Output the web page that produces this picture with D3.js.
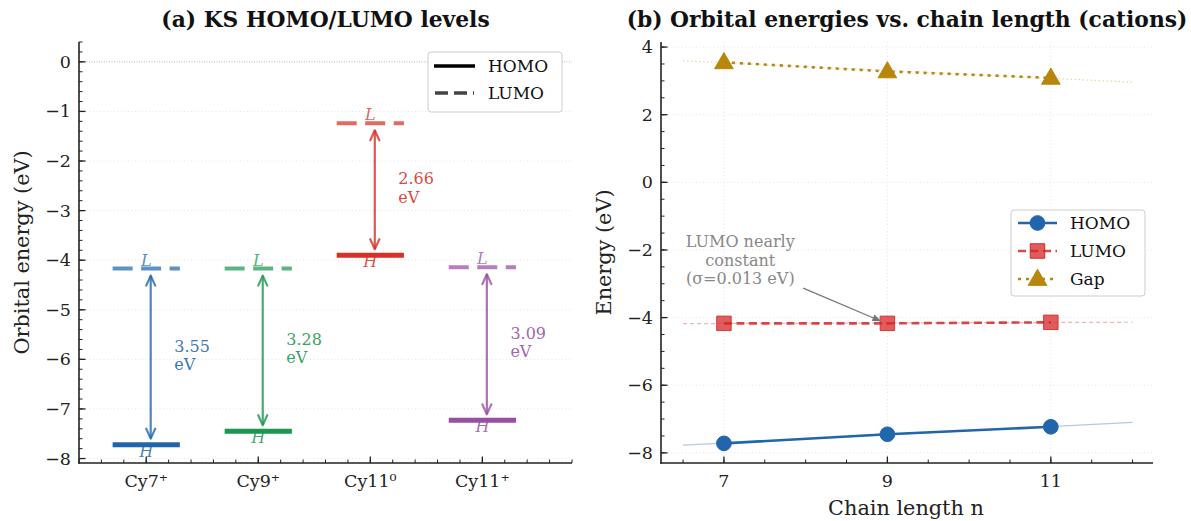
<!DOCTYPE html>
<html><head><meta charset="utf-8">
<script src="https://cdn.jsdelivr.net/npm/d3@7"></script>
<style>
html,body{margin:0;padding:0;background:#fff;}
svg text{font-family:"DejaVu Serif",serif;}
</style></head>
<body><svg id="c" width="1191" height="521"></svg>
<script>
// ---------- data ----------
const categories = ["Cy7⁺", "Cy9⁺", "Cy11⁰", "Cy11⁺"];
const homoLevels = [-7.72, -7.45, -3.90, -7.23];
const lumoLevels = [-4.17, -4.17, -1.24, -4.14];
const levelColors = ["#2166ac", "#1a9850", "#d73027", "#984ea3"];
const leftYTicks = [0, -1, -2, -3, -4, -5, -6, -7, -8];

const chainN = [7, 9, 11];
const cationHomo = [-7.72, -7.45, -7.23];
const cationLumo = [-4.17, -4.17, -4.14];
const cationGap = [3.55, 3.28, 3.09];
const rightYTicks = [4, 2, 0, -2, -4, -6, -8];
const rightXTicks = [7, 9, 11];

const svg = d3.select("#c");
const fmt = d3.format("d");
const TICK = 17.5, LAB = 20.8, TITLE = 21.8, LEG = 17, ANN = 16;

function axesFrame(g, x, y, xMinor, yMinor, xMajor, yMajor) {
  const [x0, x1] = x.range(), [y1, y0] = y.range();
  g.selectAll(".ymin").data(yMinor).join("line")
    .attr("x1", x0).attr("x2", x0 + 3.5).attr("y1", d => y(d)).attr("y2", d => y(d))
    .attr("stroke", "#222").attr("stroke-width", 1);
  g.selectAll(".ymaj").data(yMajor).join("line")
    .attr("x1", x0).attr("x2", x0 + 6.5).attr("y1", d => y(d)).attr("y2", d => y(d))
    .attr("stroke", "#222").attr("stroke-width", 1.3);
  g.selectAll(".xmin").data(xMinor).join("line")
    .attr("x1", d => x(d)).attr("x2", d => x(d)).attr("y1", y1).attr("y2", y1 - 3.5)
    .attr("stroke", "#222").attr("stroke-width", 1);
  g.selectAll(".xmaj").data(xMajor).join("line")
    .attr("x1", d => x(d)).attr("x2", d => x(d)).attr("y1", y1).attr("y2", y1 - 6.5)
    .attr("stroke", "#222").attr("stroke-width", 1.3);
  g.append("line").attr("x1", x0).attr("x2", x0).attr("y1", y0).attr("y2", y1 + 0.75)
    .attr("stroke", "#222").attr("stroke-width", 1.6);
  g.append("line").attr("x1", x0 - 0.75).attr("x2", x1).attr("y1", y1).attr("y2", y1)
    .attr("stroke", "#222").attr("stroke-width", 1.6);
}
function range(a, b, s) { const r = []; for (let v = a; v <= b + 1e-9; v += s) r.push(+v.toFixed(3)); return r; }

// ================= panel (a) =================
{
  const x = d3.scaleLinear().domain([-0.6, 3.8]).range([79, 572]);
  const y = d3.scaleLinear().domain([-8.09, 0.4]).range([463, 42]);
  const g = svg.append("g");
  g.selectAll(".grid").data(leftYTicks.filter(d => d !== 0)).join("line")
    .attr("x1", x(-0.6)).attr("x2", x(3.8)).attr("y1", d => y(d)).attr("y2", d => y(d))
    .attr("stroke", "#ddd").attr("stroke-width", 0.8).attr("stroke-dasharray", "1,2.5");
  g.append("line").attr("x1", x(-0.6)).attr("x2", x(3.8)).attr("y1", y(0)).attr("y2", y(0))
    .attr("stroke", "#aaa").attr("stroke-width", 0.8).attr("stroke-dasharray", "1,1.5");

  const idx = d3.range(categories.length);
  g.selectAll(".hl").data(idx).join("text")
    .attr("x", i => x(i)).attr("y", i => y(homoLevels[i]) + 12)
    .attr("text-anchor", "middle").attr("font-style", "italic").attr("font-size", 16)
    .attr("fill", i => levelColors[i]).attr("fill-opacity", 0.85).text("H");
  g.selectAll(".ll").data(idx).join("text")
    .attr("x", i => x(i)).attr("y", i => y(lumoLevels[i]) - 3)
    .attr("text-anchor", "middle").attr("font-style", "italic").attr("font-size", 16)
    .attr("fill", i => levelColors[i]).attr("fill-opacity", 0.75).text("L");
  g.selectAll(".hb").data(idx).join("line")
    .attr("x1", i => x(i - 0.3)).attr("x2", i => x(i + 0.3))
    .attr("y1", i => y(homoLevels[i])).attr("y2", i => y(homoLevels[i]))
    .attr("stroke", i => levelColors[i]).attr("stroke-width", 5);
  g.selectAll(".lb").data(idx).join("line")
    .attr("x1", i => x(i - 0.3)).attr("x2", i => x(i + 0.3))
    .attr("y1", i => y(lumoLevels[i])).attr("y2", i => y(lumoLevels[i]))
    .attr("stroke", i => levelColors[i]).attr("stroke-opacity", 0.72).attr("stroke-width", 4)
    .attr("stroke-dasharray", "20,8.5");
  idx.forEach(i => {
    const ax = x(i + 0.04), yt = y(lumoLevels[i]) + 7, yb = y(homoLevels[i]) - 6;
    const ag = g.append("g").attr("stroke", levelColors[i]).attr("stroke-opacity", 0.8)
      .attr("stroke-width", 2.2).attr("fill", "none").attr("stroke-linecap", "round").attr("stroke-linejoin", "round");
    ag.append("line").attr("x1", ax).attr("x2", ax).attr("y1", yt + 1).attr("y2", yb - 1);
    ag.append("path").attr("d", `M${ax - 4.5},${yt + 10}L${ax},${yt}L${ax + 4.5},${yt + 10}`);
    ag.append("path").attr("d", `M${ax - 4.5},${yb - 10}L${ax},${yb}L${ax + 4.5},${yb - 10}`);
    const mid = y((homoLevels[i] + lumoLevels[i]) / 2);
    const t = g.append("text").attr("x", x(i + 0.25)).attr("y", mid - 5)
      .attr("font-size", ANN).attr("fill", levelColors[i]).attr("fill-opacity", 0.9);
    t.append("tspan").attr("x", x(i + 0.25)).text((lumoLevels[i] - homoLevels[i]).toFixed(2));
    t.append("tspan").attr("x", x(i + 0.25)).attr("dy", 18.5).text("eV");
  });

  axesFrame(g, x, y, range(-0.6, 3.8, 0.2), range(-8, 0.4, 0.2), idx, leftYTicks);
  g.selectAll(".ytl").data(leftYTicks).join("text")
    .attr("x", 71).attr("y", d => y(d) + 6).attr("text-anchor", "end").attr("font-size", TICK)
    .attr("fill", "#222").text(d => fmt(d));
  g.selectAll(".xtl").data(idx).join("text")
    .attr("x", i => x(i)).attr("y", 487).attr("text-anchor", "middle").attr("font-size", TICK)
    .attr("fill", "#222").text(i => categories[i]);
  g.append("text").attr("transform", `translate(29,${(42 + 463) / 2}) rotate(-90)`)
    .attr("text-anchor", "middle").attr("font-size", LAB).attr("fill", "#222").text("Orbital energy (eV)");
  g.append("text").attr("x", (79 + 572) / 2).attr("y", 27).attr("text-anchor", "middle")
    .attr("font-size", TITLE).attr("font-weight", "bold").attr("fill", "#111").text("(a) KS HOMO/LUMO levels");

  const lg = g.append("g");
  lg.append("rect").attr("x", 428).attr("y", 52).attr("width", 134).attr("height", 60).attr("rx", 3)
    .attr("fill", "#fff").attr("fill-opacity", 0.9).attr("stroke", "#ccc").attr("stroke-width", 1);
  lg.append("line").attr("x1", 434).attr("x2", 475).attr("y1", 66).attr("y2", 66)
    .attr("stroke", "#000").attr("stroke-width", 3.5);
  lg.append("line").attr("x1", 435).attr("x2", 474).attr("y1", 93).attr("y2", 93)
    .attr("stroke", "#444").attr("stroke-width", 3.5).attr("stroke-dasharray", "13,6");
  lg.append("text").attr("x", 488).attr("y", 72).attr("font-size", LEG).attr("fill", "#111").text("HOMO");
  lg.append("text").attr("x", 488).attr("y", 99).attr("font-size", LEG).attr("fill", "#111").text("LUMO");
}

// ================= panel (b) =================
{
  const x = d3.scaleLinear().domain([6.23, 12.25]).range([661, 1153]);
  const y = d3.scaleLinear().domain([-8.3, 4.15]).range([463, 42]);
  const g = svg.append("g");
  g.selectAll(".gy").data(rightYTicks).join("line")
    .attr("x1", 661).attr("x2", 1153).attr("y1", d => y(d)).attr("y2", d => y(d))
    .attr("stroke", "#ddd").attr("stroke-width", 0.8).attr("stroke-dasharray", "1,2.5");
  g.selectAll(".gx").data(rightXTicks).join("line")
    .attr("x1", d => x(d)).attr("x2", d => x(d)).attr("y1", 42).attr("y2", 463)
    .attr("stroke", "#ddd").attr("stroke-width", 0.8).attr("stroke-dasharray", "1,2.5");

  function fit(ys) {
    const mx = d3.mean(chainN), my = d3.mean(ys);
    const s = d3.sum(chainN, (v, i) => (v - mx) * (ys[i] - my)) / d3.sum(chainN, v => (v - mx) ** 2);
    return n => my + s * (n - mx);
  }
  const series = [
    { vals: cationHomo, color: "#2166ac", dash: null, tdash: null, sym: "circle" },
    { vals: cationLumo, color: "#d62728", dash: "8,4.5", tdash: "4,3", sym: "square" },
    { vals: cationGap, color: "#b8860b", dash: "3,5", tdash: "1.5,2.5", sym: "triangle" }
  ];
  series.forEach(s => {
    const f = fit(s.vals);
    g.append("line").attr("x1", x(6.5)).attr("x2", x(12)).attr("y1", y(f(6.5))).attr("y2", y(f(12)))
      .attr("stroke", s.color).attr("stroke-opacity", 0.35).attr("stroke-width", 1.2)
      .attr("stroke-dasharray", s.tdash);
  });
  const line = d3.line().x((d, i) => x(chainN[i])).y(d => y(d));
  series.forEach(s => {
    g.append("path").attr("d", line(s.vals)).attr("fill", "none").attr("stroke", s.color)
      .attr("stroke-opacity", s.sym === "square" ? 0.85 : 1)
      .attr("stroke-width", 2.6).attr("stroke-dasharray", s.dash);
  });
  const sym = { circle: d3.symbolCircle, square: d3.symbolSquare, triangle: d3.symbolTriangle };
  const size = { circle: 170, square: 210, triangle: 150 };
  series.forEach(s => {
    g.selectAll(null).data(s.vals).join("path")
      .attr("transform", (d, i) => `translate(${x(chainN[i])},${y(d) + (s.sym === "triangle" ? 1 : 0)})`)
      .attr("d", d3.symbol(sym[s.sym], size[s.sym]))
      .attr("fill", s.color).attr("fill-opacity", s.sym === "square" ? 0.75 : 1)
      .attr("stroke", s.color).attr("stroke-opacity", s.sym === "square" ? 0.85 : 1).attr("stroke-width", 1);
  });

  const an = g.append("text").attr("text-anchor", "middle").attr("font-size", ANN).attr("fill", "#888");
  ["LUMO nearly", "constant", "(σ=0.013 eV)"].forEach((t, i) =>
    an.append("tspan").attr("x", x(7.2)).attr("y", y(-2.3) - 13 + i * 18.5).text(t));
  {
    const sx = x(7.97), sy = y(-3.13), ex = x(9) - 6, ey = y(-4.17) - 2;
    const ang = Math.atan2(ey - sy, ex - sx);
    g.append("line").attr("x1", sx).attr("y1", sy).attr("x2", ex - 6 * Math.cos(ang)).attr("y2", ey - 6 * Math.sin(ang))
      .attr("stroke", "#777").attr("stroke-width", 1.3);
    const hl = 9, hw = 3.5;
    const bx = ex - hl * Math.cos(ang), by = ey - hl * Math.sin(ang);
    g.append("path").attr("d", `M${ex},${ey}L${bx + hw * Math.sin(ang)},${by - hw * Math.cos(ang)}L${bx - hw * Math.sin(ang)},${by + hw * Math.cos(ang)}Z`)
      .attr("fill", "#777");
  }

  axesFrame(g, x, y, range(6.5, 12, 0.5), range(-8, 4, 0.5), rightXTicks, rightYTicks);
  g.selectAll(".ytl").data(rightYTicks).join("text")
    .attr("x", 653).attr("y", d => y(d) + 6).attr("text-anchor", "end").attr("font-size", TICK)
    .attr("fill", "#222").text(d => fmt(d));
  g.selectAll(".xtl").data(rightXTicks).join("text")
    .attr("x", d => x(d)).attr("y", 487).attr("text-anchor", "middle").attr("font-size", TICK)
    .attr("fill", "#222").text(d => fmt(d));
  g.append("text").attr("transform", `translate(611,${(42 + 463) / 2}) rotate(-90)`)
    .attr("text-anchor", "middle").attr("font-size", LAB).attr("fill", "#222").text("Energy (eV)");
  g.append("text").attr("x", 906).attr("y", 515).attr("text-anchor", "middle")
    .attr("font-size", LAB).attr("fill", "#222").text("Chain length n");
  g.append("text").attr("x", (661 + 1153) / 2).attr("y", 27).attr("text-anchor", "middle")
    .attr("font-size", TITLE).attr("font-weight", "bold").attr("fill", "#111")
    .text("(b) Orbital energies vs. chain length (cations)");

  const lg = g.append("g");
  lg.append("rect").attr("x", 1011).attr("y", 210).attr("width", 134).attr("height", 86).attr("rx", 3)
    .attr("fill", "#fff").attr("fill-opacity", 0.9).attr("stroke", "#ccc").attr("stroke-width", 1);
  const names = ["HOMO", "LUMO", "Gap"];
  series.forEach((s, i) => {
    const ly = 223 + i * 28;
    lg.append("line").attr("x1", 1018).attr("x2", 1057).attr("y1", ly).attr("y2", ly)
      .attr("stroke", s.color).attr("stroke-width", 2.6).attr("stroke-dasharray", s.dash)
      .attr("stroke-opacity", s.sym === "square" ? 0.85 : 1);
    lg.append("path").attr("transform", `translate(1037.5,${ly + (s.sym === "triangle" ? 1 : 0)})`)
      .attr("d", d3.symbol(sym[s.sym], size[s.sym]))
      .attr("fill", s.color).attr("fill-opacity", s.sym === "square" ? 0.75 : 1)
      .attr("stroke", s.color).attr("stroke-width", 1);
    lg.append("text").attr("x", 1070).attr("y", ly + 6).attr("font-size", LEG).attr("fill", "#111").text(names[i]);
  });
}
</script></body></html>
